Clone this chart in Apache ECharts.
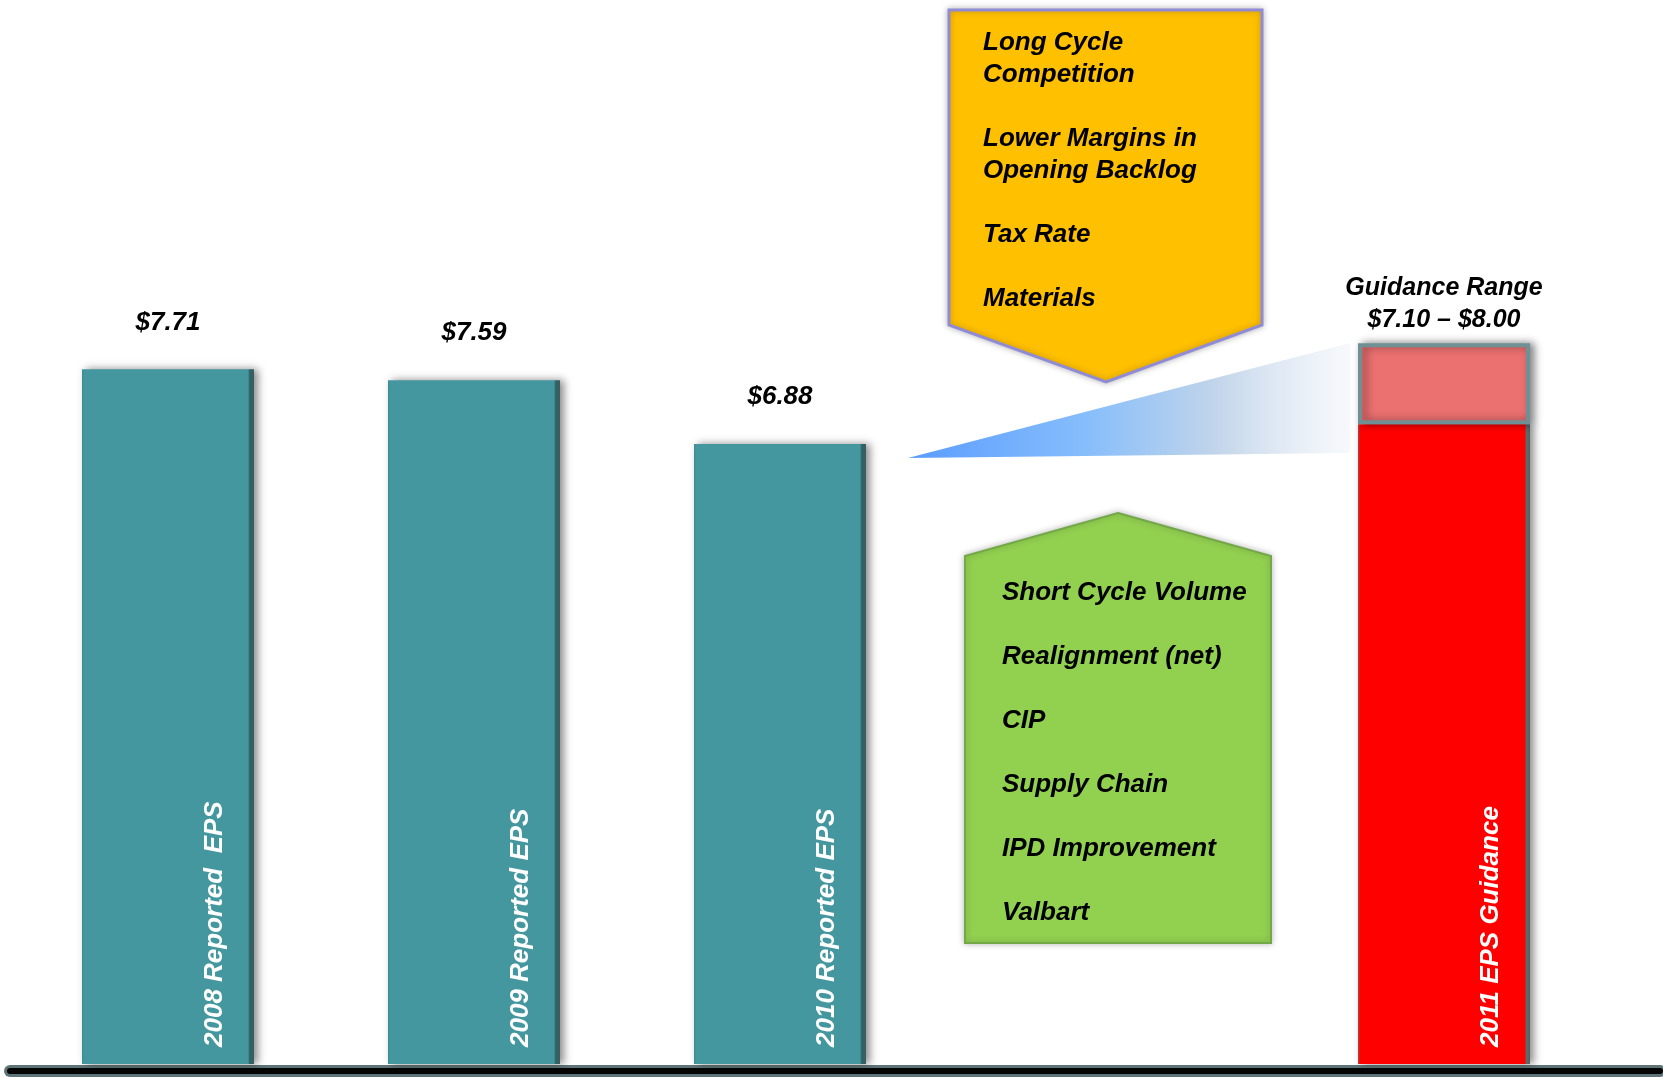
<!DOCTYPE html>
<html><head><meta charset="utf-8">
<script src="https://cdn.jsdelivr.net/npm/echarts@6/dist/echarts.min.js"></script>
<style>html,body{margin:0;padding:0;background:#fff}#c{width:1663px;height:1078px}</style>
</head><body><div id="c"></div>
<script>
// ---- data ----
const categories = ['2008 Reported  EPS', '2009 Reported EPS', '2010 Reported EPS'];
const reportedEps = [7.71, 7.59, 6.88];
const guidanceCategory = ['2011 EPS Guidance'];
const guidanceLow = [7.10];
const guidanceHigh = [8.00];
const headwinds = ['Long Cycle', 'Competition', '', 'Lower Margins in', 'Opening Backlog', '', 'Tax Rate', '', 'Materials'];
const tailwinds = ['Short Cycle Volume', 'Realignment (net)', 'CIP', 'Supply Chain', 'IPD Improvement', 'Valbart'];

const FONT = '"Liberation Sans", Arial, sans-serif';
const chart = echarts.init(document.getElementById('c'), null, {renderer: 'canvas'});

const tealFill = new echarts.graphic.LinearGradient(0, 0, 1, 0, [
  {offset: 0, color: '#3f8b92'}, {offset: 0.015, color: '#45979f'},
  {offset: 0.965, color: '#45979f'}, {offset: 0.975, color: '#2f6266'}, {offset: 1, color: '#3d5d60'}
]);
const redFill = new echarts.graphic.LinearGradient(0, 0, 1, 0, [
  {offset: 0, color: '#8a5555'}, {offset: 0.012, color: '#ff0000'},
  {offset: 0.97, color: '#ff0000'}, {offset: 0.98, color: '#5d6d6f'}, {offset: 1, color: '#4f6264'}
]);
const barShadow = {shadowColor: 'rgba(0,0,0,0.45)', shadowBlur: 8, shadowOffsetX: 4, shadowOffsetY: 0};

const insideLabel = {
  show: true, position: ['77%', '100%'], rotate: 90, align: 'left', verticalAlign: 'middle',
  offset: [17, 0], color: '#ffffff', fontFamily: FONT, fontStyle: 'italic', fontWeight: 'bold', fontSize: 26,
  formatter: p => p.name
};
const hiddenAxis = {axisLine: {show: false}, axisTick: {show: false}, axisLabel: {show: false}, splitLine: {show: false}};

const option = {
  backgroundColor: '#ffffff',
  animation: false,
  grid: [
    {left: 15, width: 918, top: 163, bottom: 14},
    {left: 1291, width: 306, top: 163, bottom: 14},
    {left: 10, right: 3, top: 163, bottom: 7.5}
  ],
  xAxis: [
    Object.assign({gridIndex: 0, type: 'category', data: categories}, hiddenAxis),
    Object.assign({gridIndex: 1, type: 'category', data: guidanceCategory}, hiddenAxis),
    {gridIndex: 2, type: 'category', data: [''], position: 'bottom', offset: 0,
     axisLine: {show: true, lineStyle: {color: '#5f7477', width: 12}}, axisTick: {show: false}, axisLabel: {show: false}},
    {gridIndex: 2, type: 'category', data: [''], position: 'bottom', offset: 0,
     axisLine: {show: true, lineStyle: {color: '#050505', width: 6}}, axisTick: {show: false}, axisLabel: {show: false}}
  ],
  yAxis: [
    {gridIndex: 0, type: 'value', min: 0, max: 10, show: false},
    {gridIndex: 1, type: 'value', min: 0, max: 10, show: false},
    {gridIndex: 2, type: 'value', min: 0, max: 10, show: false}
  ],
  graphic: [
    {type: 'polygon', z: 1, shape: {points: [[908, 458], [1350, 343], [1350, 453]]},
     style: {fill: new echarts.graphic.LinearGradient(0, 0, 1, 0, [
       {offset: 0, color: '#5a9cff'}, {offset: 0.4, color: '#86bdfb'},
       {offset: 0.7, color: '#c2d5ea'}, {offset: 1, color: 'rgba(242,245,250,0.6)'}])}},
    {type: 'polygon', z: 10, shape: {points: [[949, 10], [1262, 10], [1262, 325], [1106, 382], [949, 325]]},
     style: {fill: '#ffc000', stroke: '#8f8bd6', lineWidth: 3, shadowColor: 'rgba(0,0,0,0.25)', shadowBlur: 6}},
    {type: 'text', z: 11, left: 983, top: 27,
     style: {text: headwinds.join('\n'), fill: '#000', font: 'italic bold 26px ' + FONT, lineHeight: 32}},
    {type: 'polygon', z: 10, shape: {points: [[1118, 513], [1271, 556], [1271, 943], [965, 943], [965, 556]]},
     style: {fill: '#92d050', stroke: '#73a848', lineWidth: 2, shadowColor: 'rgba(0,0,0,0.25)', shadowBlur: 6}},
    {type: 'text', z: 11, left: 1002, top: 577,
     style: {text: tailwinds.join('\n\n'), fill: '#000', font: 'italic bold 26px ' + FONT, lineHeight: 32}}
  ],
  series: [
    {name: 'EPS', type: 'bar', xAxisIndex: 0, yAxisIndex: 0, data: reportedEps, barWidth: 172,
     itemStyle: Object.assign({color: tealFill}, barShadow),
     label: {show: true, position: 'top', distance: 34, color: '#000', fontFamily: FONT, fontStyle: 'italic',
             fontWeight: 'bold', fontSize: 26, formatter: p => '$' + p.value.toFixed(2)}},
    {name: 'EPS name', type: 'bar', xAxisIndex: 0, yAxisIndex: 0, data: reportedEps, barWidth: 172, barGap: '-100%', z: 3,
     itemStyle: {color: 'rgba(0,0,0,0)'}, label: insideLabel},
    {name: 'Guidance low', type: 'bar', xAxisIndex: 1, yAxisIndex: 1, stack: 'g', data: guidanceLow, barWidth: 172,
     itemStyle: Object.assign({color: redFill}, barShadow), label: insideLabel},
    {name: 'Guidance range', type: 'bar', xAxisIndex: 1, yAxisIndex: 1, stack: 'g',
     data: guidanceHigh.map((v, i) => +(v - guidanceLow[i]).toFixed(2)), barWidth: 172,
     itemStyle: Object.assign({color: '#eb7070', borderColor: '#6f9195', borderWidth: 4}, barShadow),
     label: {show: true, position: 'top', distance: 7, color: '#000', fontFamily: FONT, fontStyle: 'italic',
             fontWeight: 'bold', fontSize: 25, lineHeight: 32, align: 'center',
             formatter: () => 'Guidance Range\n$' + guidanceLow[0].toFixed(2) + ' \u2013 $' + guidanceHigh[0].toFixed(2)}}
  ]
};
chart.setOption(option);
</script>
</body></html>
